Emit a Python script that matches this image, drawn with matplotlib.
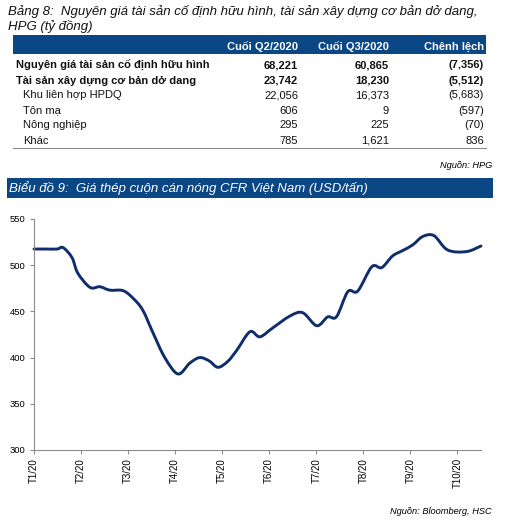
import numpy as np
import matplotlib
matplotlib.use("Agg")
import matplotlib.pyplot as plt
from matplotlib.path import Path
from matplotlib.patches import PathPatch, Rectangle

plt.rcParams['font.family'] = ['Liberation Sans', 'DejaVu Sans']

# table data
row_labels = ["Nguyên giá tài sản cố định hữu hình", "Tài sản xây dựng cơ bản dở dang",
              "Khu liên hợp HPDQ", "Tôn mạ", "Nông nghiệp", "Khác"]
q2_2020 = ["68,221", "23,742", "22,056", "606", "295", "785"]
q3_2020 = ["60,865", "18,230", "16,373", "9", "225", "1,621"]
chenh_lech = ["(7,356)", "(5,512)", "(5,683)", "(597)", "(70)", "836"]
bold_rows = [True, True, False, False, False, False]

# chart data (month index from T1/20, price USD/tan)
month_pos = [0.0, 0.25, 0.49, 0.62, 0.81, 0.93, 1.19, 1.40, 1.61, 1.89, 2.10, 2.31,
             2.53, 2.78, 3.06, 3.31, 3.52, 3.72, 3.91, 4.12, 4.31, 4.59, 4.80, 5.07,
             5.44, 5.71, 6.01, 6.24, 6.43, 6.67, 6.88, 7.18, 7.39, 7.62, 7.83, 8.05,
             8.26, 8.50, 8.79, 9.19, 9.50]
price = [517.5, 517.5, 517.5, 519, 508, 491.5, 476, 476.7, 473, 472.5, 464.5, 451.5,
         426.7, 400, 382.3, 394, 400, 396.5, 389.5, 396, 408, 428, 422.5, 432,
         445, 448.6, 434.5, 444, 444.3, 471.4, 472, 498.4, 497.4, 510, 515.7, 522,
         531, 532, 516.5, 514.7, 520.8]
month_labels = ["T1/20", "T2/20", "T3/20", "T4/20", "T5/20", "T6/20", "T7/20",
                "T8/20", "T9/20", "T10/20"]

W, H = 506, 522
fig = plt.figure(figsize=(W / 100, H / 100), dpi=100)
band = '#0B4785'
navy = '#0F2C6C'

def fy(py):
    return 1 - py / H

def fx(px):
    return px / W

fig.text(fx(8), fy(15), "Bảng 8:  Nguyên giá tài sản cố định hữu hình, tài sản xây dựng cơ bản dở dang,",
         fontsize=9.5, style='italic', va='baseline', color='#111111')
fig.text(fx(8), fy(30), "HPG (tỷ đồng)", fontsize=9.5, style='italic', va='baseline', color='#111111')

# table header band
fig.patches.append(Rectangle((fx(13), fy(54)), fx(486) - fx(13), fy(35) - fy(54),
                             transform=fig.transFigure, facecolor=band, edgecolor='none'))
col_x = [fx(298), fx(389), fx(484)]
for x, txt in zip(col_x, ["Cuối Q2/2020", "Cuối Q3/2020", "Chênh lệch"]):
    fig.text(x, fy(49.5), txt, color='white', fontsize=8, fontweight='bold', ha='right', va='baseline')

row_y = [68.5, 83.5, 98.5, 113.5, 128.5, 143.5]
for i in range(len(row_labels)):
    w = 'bold' if bold_rows[i] else 'normal'
    lx = fx(16) if bold_rows[i] else fx(23)
    yy = fy(row_y[i])
    fig.text(lx, yy, row_labels[i], fontsize=8, fontweight=w, va='baseline', color='#111111')
    for x, v in zip(col_x, [q2_2020[i], q3_2020[i], chenh_lech[i]]):
        fig.text(x, yy, v, fontsize=8, fontweight=w, ha='right', va='baseline', color='#111111')
fig.add_artist(plt.Line2D([fx(13), fx(486)], [fy(148), fy(148)], transform=fig.transFigure,
                          color='#8C8C8C', lw=0.8))

fig.text(fx(492), fy(165), "Nguồn: HPG", fontsize=6.7, style='italic', ha='right', va='center')

# chart title band
fig.patches.append(Rectangle((fx(7), fy(198)), fx(493) - fx(7), fy(178) - fy(198),
                             transform=fig.transFigure, facecolor=band, edgecolor='none'))
fig.text(fx(9), fy(192), "Biểu đồ 9:  Giá thép cuộn cán nóng CFR Việt Nam (USD/tấn)",
         color='white', fontsize=9.5, style='italic', va='baseline')

ax = fig.add_axes([fx(34), fy(450), fx(481) - fx(34), fy(219) - fy(450)])
ax.set_xlim(0, 9.5)
ax.set_ylim(300, 550)

# smoothed line (Excel-like bezier through the points)
xs = np.array(month_pos)
ys = np.array(price)
px = np.concatenate([[xs[0]], xs, [xs[-1]]])
py = np.concatenate([[ys[0]], ys, [ys[-1]]])
verts = [(xs[0], ys[0])]
codes = [Path.MOVETO]
for i in range(1, len(xs)):
    c1 = (px[i] + (px[i + 1] - px[i - 1]) / 6, py[i] + (py[i + 1] - py[i - 1]) / 6)
    c2 = (px[i + 1] - (px[i + 2] - px[i]) / 6, py[i + 1] - (py[i + 2] - py[i]) / 6)
    verts += [c1, c2, (xs[i], ys[i])]
    codes += [Path.CURVE4] * 3
ax.add_patch(PathPatch(Path(verts, codes), facecolor='none', edgecolor=navy, lw=2.1,
                       capstyle='round', joinstyle='round', clip_on=False))

for s in ['top', 'right']:
    ax.spines[s].set_visible(False)
for s in ['left', 'bottom']:
    ax.spines[s].set_color('#8C8C8C')
    ax.spines[s].set_linewidth(0.8)
ax.set_yticks(np.arange(300, 551, 50))
ax.set_xticks(np.arange(len(month_labels)))
ax.set_xticklabels(month_labels, rotation=90)
ax.tick_params(axis='y', labelsize=6.8, length=3, color='#8C8C8C', pad=3)
ax.tick_params(axis='x', labelsize=7, length=3, color='#8C8C8C', pad=3)

fig.text(fx(492), fy(512), "Nguồn: Bloomberg, HSC", fontsize=6.7, style='italic', ha='right',
         va='center')

fig.savefig("out.png", dpi=100)
